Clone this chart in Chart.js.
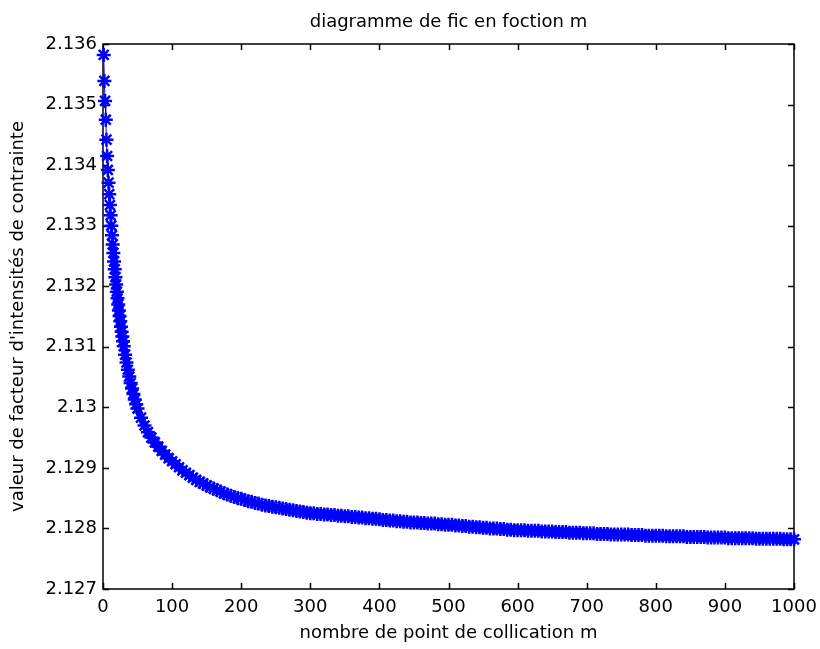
<!DOCTYPE html>
<html lang="fr">
<head>
<meta charset="UTF-8">
<title>diagramme de fic en foction m</title>
<script src="https://cdn.jsdelivr.net/npm/chart.js"></script>
<style>
  html, body { margin: 0; padding: 0; background: #fff; }
  #wrap { width: 820px; height: 649px; }
</style>
</head>
<body>
<div id="wrap"><canvas id="fic"></canvas></div>
<script>
// nombre de points de collocation m
const mValues = [
  1, 2, 3, 4, 5, 6, 7, 8, 9, 10, 11, 12, 13, 14, 15, 16, 17, 18, 19, 20,
  21, 22, 23, 24, 25, 26, 27, 28, 29, 30, 32, 34, 36, 38, 40, 42, 44, 46, 48, 50,
  55, 60, 65, 70, 75, 80, 85, 90, 95,
  100, 105, 110, 115, 120, 125, 130, 135, 140, 145,
  150, 155, 160, 165, 170, 175, 180, 185, 190, 195,
  200, 205, 210, 215, 220, 225, 230, 235, 240, 245,
  250, 255, 260, 265, 270, 275, 280, 285, 290, 295,
  300, 305, 310, 315, 320, 325, 330, 335, 340, 345,
  350, 355, 360, 365, 370, 375, 380, 385, 390, 395,
  400, 405, 410, 415, 420, 425, 430, 435, 440, 445,
  450, 455, 460, 465, 470, 475, 480, 485, 490, 495,
  500, 505, 510, 515, 520, 525, 530, 535, 540, 545,
  550, 555, 560, 565, 570, 575, 580, 585, 590, 595,
  600, 605, 610, 615, 620, 625, 630, 635, 640, 645,
  650, 655, 660, 665, 670, 675, 680, 685, 690, 695,
  700, 705, 710, 715, 720, 725, 730, 735, 740, 745,
  750, 755, 760, 765, 770, 775, 780, 785, 790, 795,
  800, 805, 810, 815, 820, 825, 830, 835, 840, 845,
  850, 855, 860, 865, 870, 875, 880, 885, 890, 895,
  900, 905, 910, 915, 920, 925, 930, 935, 940, 945,
  950, 955, 960, 965, 970, 975, 980, 985, 990, 995,
  1000
];
// facteur d'intensite de contrainte
const ficValues = [
  2.13582, 2.13539, 2.13506, 2.13475, 2.13442, 2.13415, 2.13392, 2.13371, 2.13352, 2.13334,
  2.13317, 2.13300, 2.13284, 2.13269, 2.13255, 2.13241, 2.13228, 2.13215, 2.13203, 2.13191,
  2.13180, 2.13170, 2.13160, 2.13151, 2.13142, 2.13133, 2.13125, 2.13117, 2.13109, 2.13101,
  2.13087, 2.13074, 2.13062, 2.13051, 2.13040, 2.13031, 2.13022, 2.13013, 2.13005, 2.12998,
  2.12983, 2.12970, 2.12959, 2.12950, 2.12942, 2.12935, 2.12928, 2.12922, 2.12916,
  2.12911, 2.12906, 2.12901, 2.12896, 2.12892, 2.12888, 2.12884, 2.12880, 2.12877, 2.12874,
  2.12871, 2.12868, 2.12866, 2.12863, 2.12861, 2.12858, 2.12856, 2.12854, 2.12852, 2.12850,
  2.12849, 2.12847, 2.12845, 2.12844, 2.12842, 2.12841, 2.12839, 2.12838, 2.12837, 2.12836,
  2.12835, 2.12834, 2.12833, 2.12832, 2.12831, 2.12830, 2.12829, 2.12828, 2.12827, 2.12826,
  2.12825, 2.12825, 2.12824, 2.12824, 2.12823, 2.12823, 2.12822, 2.12822, 2.12821, 2.12821,
  2.12820, 2.12820, 2.12819, 2.12819, 2.12818, 2.12818, 2.12817, 2.12817, 2.12816, 2.12816,
  2.12815, 2.12814, 2.12814, 2.12813, 2.12813, 2.12812, 2.12812, 2.12811, 2.12811, 2.12810,
  2.12810, 2.12810, 2.12809, 2.12809, 2.12808, 2.12808, 2.12808, 2.12807, 2.12807, 2.12806,
  2.12806, 2.12806, 2.12805, 2.12805, 2.12804, 2.12804, 2.12803, 2.12803, 2.12802, 2.12802,
  2.12801, 2.12801, 2.12800, 2.12800, 2.12800, 2.12799, 2.12799, 2.12798, 2.12798, 2.12797,
  2.12797, 2.12797, 2.12797, 2.12796, 2.12796, 2.12796, 2.12796, 2.12795, 2.12795, 2.12795,
  2.12795, 2.12794, 2.12794, 2.12794, 2.12794, 2.12793, 2.12793, 2.12793, 2.12793, 2.12792,
  2.12792, 2.12792, 2.12792, 2.12791, 2.12791, 2.12791, 2.12791, 2.12790, 2.12790, 2.12790,
  2.12790, 2.12790, 2.12790, 2.12789, 2.12789, 2.12789, 2.12789, 2.12788, 2.12788, 2.12788,
  2.12788, 2.12788, 2.12788, 2.12787, 2.12787, 2.12787, 2.12787, 2.12787, 2.12787, 2.12786,
  2.12786, 2.12786, 2.12786, 2.12786, 2.12786, 2.12785, 2.12785, 2.12785, 2.12785, 2.12785,
  2.12785, 2.12784, 2.12784, 2.12784, 2.12784, 2.12784, 2.12784, 2.12784, 2.12784, 2.12783,
  2.12783, 2.12783, 2.12783, 2.12783, 2.12783, 2.12783, 2.12783, 2.12782, 2.12782, 2.12782,
  2.12782
];
const xTicks = [0, 100, 200, 300, 400, 500, 600, 700, 800, 900, 1000];
const yTicks = [2.127, 2.128, 2.129, 2.13, 2.131, 2.132, 2.133, 2.134, 2.135, 2.136];
const chartTitle = 'diagramme de fic en foction m';

const FONT = 'DejaVu Sans';

// cadre + graduations vers l'interieur, titre centre sur les axes (comme matlab)
const boxPlugin = {
  id: 'box',
  beforeDatasetsDraw(chart) {
    const { ctx, chartArea: a, scales } = chart;
    ctx.save();
    ctx.strokeStyle = '#000';
    ctx.lineWidth = 1.5;
    ctx.strokeRect(a.left, a.top, a.right - a.left, a.bottom - a.top);
    ctx.beginPath();
    scales.x.ticks.forEach(t => {
      const px = Math.round(scales.x.getPixelForValue(t.value)) + 0.5;
      ctx.moveTo(px, a.bottom); ctx.lineTo(px, a.bottom - 6);
      ctx.moveTo(px, a.top); ctx.lineTo(px, a.top + 6);
    });
    scales.y.ticks.forEach(t => {
      const py = Math.round(scales.y.getPixelForValue(t.value)) + 0.5;
      ctx.moveTo(a.left, py); ctx.lineTo(a.left + 6, py);
      ctx.moveTo(a.right, py); ctx.lineTo(a.right - 6, py);
    });
    ctx.stroke();

    ctx.fillStyle = '#000';
    ctx.font = '18px "' + FONT + '"';
    ctx.textAlign = 'center';
    ctx.textBaseline = 'alphabetic';
    ctx.fillText(chartTitle, (a.left + a.right) / 2, 27);
    ctx.restore();
  }
};

new Chart(document.getElementById('fic'), {
  type: 'scatter',
  data: {
    datasets: [{
      data: mValues.map((m, i) => ({ x: m, y: ficValues[i] })),
      showLine: true,
      borderColor: '#0000ff',
      backgroundColor: '#0000ff',
      borderWidth: 1,
      // la bande d'etoiles est pleine une fois les points serres
      segment: { borderWidth: c => (c.p0.parsed.x >= 14 ? 7 : 1) },
      pointStyle: 'star',
      pointRadius: 7,
      pointBorderWidth: 2.5,
      pointBorderColor: '#0000ff',
      clip: false
    }]
  },
  options: {
    responsive: true,
    maintainAspectRatio: false,
    animation: false,
    layout: { padding: { left: 0, right: 26, top: 44, bottom: 0 } },
    plugins: {
      legend: { display: false },
      tooltip: { enabled: false },
      title: { display: false }
    },
    scales: {
      x: {
        type: 'linear',
        min: 0,
        max: 1000,
        afterBuildTicks: s => { s.ticks = xTicks.map(v => ({ value: v })); },
        afterFit: s => { s.height = 60; s.paddingLeft = 0; s.paddingRight = 0; },
        grid: { display: false, drawTicks: false },
        border: { display: false },
        ticks: {
          color: '#000',
          padding: 8,
          maxRotation: 0,
          font: { family: FONT, size: 18 },
          callback: v => String(v)
        },
        title: {
          display: true,
          text: 'nombre de point de collication m',
          color: '#000',
          font: { family: FONT, size: 18 },
          padding: { top: 0, bottom: 5 }
        }
      },
      y: {
        type: 'linear',
        min: 2.127,
        max: 2.136,
        afterBuildTicks: s => { s.ticks = yTicks.map(v => ({ value: v })); },
        afterFit: s => { s.width = 103; s.paddingTop = 0; s.paddingBottom = 0; },
        grid: { display: false, drawTicks: false },
        border: { display: false },
        ticks: {
          color: '#000',
          padding: 6,
          font: { family: FONT, size: 18 },
          callback: v => String(parseFloat(v.toFixed(3)))
        },
        title: {
          display: true,
          text: "valeur de facteur d'intensités de contrainte",
          color: '#000',
          font: { family: FONT, size: 18 },
          padding: { top: 8, bottom: 0 }
        }
      }
    }
  },
  plugins: [boxPlugin]
});
</script>
</body>
</html>
